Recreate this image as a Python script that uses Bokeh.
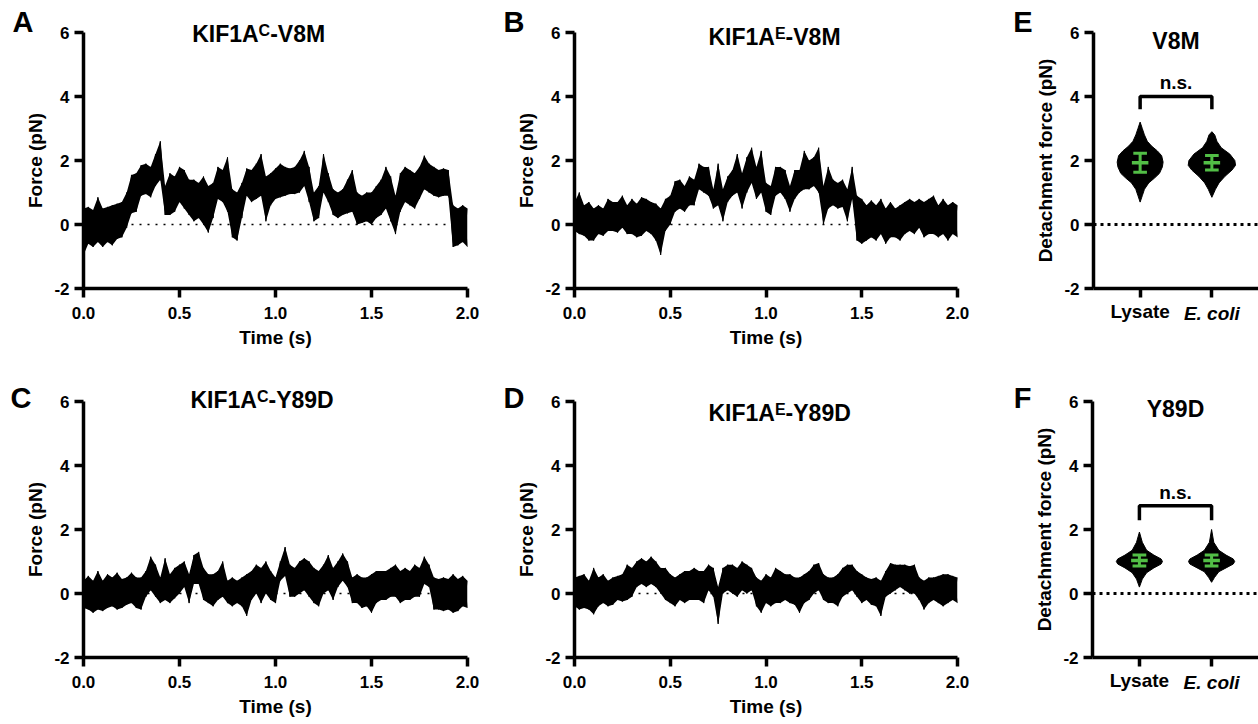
from bokeh.plotting import figure
from bokeh.layouts import row, column
from bokeh.models import Range1d, FixedTicker, Label, Span, LinearAxis
from bokeh.embed import file_html
from bokeh.resources import INLINE

FONT = "Liberation Sans"
GREEN = "#52BE46"

# ---------------- data ----------------
time_s = [0.0, 0.025, 0.05, 0.075, 0.1, 0.125, 0.15, 0.175, 0.2, 0.225,
          0.25, 0.275, 0.3, 0.325, 0.35, 0.375, 0.4, 0.425, 0.45, 0.475,
          0.5, 0.525, 0.55, 0.575, 0.6, 0.625, 0.65, 0.675, 0.7, 0.725,
          0.75, 0.775, 0.8, 0.825, 0.85, 0.875, 0.9, 0.925, 0.95, 0.975,
          1.0, 1.025, 1.05, 1.075, 1.1, 1.125, 1.15, 1.175, 1.2, 1.225,
          1.25, 1.275, 1.3, 1.325, 1.35, 1.375, 1.4, 1.425, 1.45, 1.475,
          1.5, 1.525, 1.55, 1.575, 1.6, 1.625, 1.65, 1.675, 1.7, 1.725,
          1.75, 1.775, 1.8, 1.825, 1.85, 1.875, 1.9, 1.925, 1.95, 1.975, 2.0]

# KIF1A^C-V8M  (upper / lower envelope of the force trace, pN)
hi_A = [0.5, 0.55, 0.45, 0.85, 0.5, 0.55, 0.6, 0.65, 0.7, 1.0,
        1.55, 1.6, 1.85, 1.9, 1.8, 2.2, 2.6, 1.2, 1.6, 1.5,
        1.8, 1.7, 1.4, 1.4, 1.3, 1.5, 1.2, 1.3, 1.8, 1.7,
        2.1, 1.1, 1.0, 1.3, 1.75, 1.7, 1.9, 2.2, 1.5, 1.6,
        1.75, 1.9, 1.8, 1.75, 1.8, 2.0, 2.3, 1.8, 1.0, 1.2,
        2.2, 1.6, 1.1, 1.0, 1.1, 1.4, 1.7, 1.0, 0.9, 1.0,
        1.0, 1.2, 1.4, 1.8, 1.5, 0.9, 1.6, 1.8, 1.7, 1.6,
        1.8, 2.15, 1.9, 1.8, 1.7, 1.75, 1.7, 0.6, 0.5, 0.6, 0.5]
lo_A = [-0.95, -0.6, -0.7, -0.55, -0.7, -0.55, -0.65, -0.45, -0.4, -0.1,
        0.35, 0.4, 0.9, 0.95, 0.85, 1.2, 1.4, 0.3, 0.3, 0.4,
        0.7, 0.5, 0.3, 0.1, 0.2, 0.0, -0.25, 0.2, 0.8, 0.7,
        0.4, -0.4, -0.5, 0.2, 0.9, 0.7, 0.8, 0.9, 0.1, 0.6,
        0.8, 0.85, 0.9, 0.95, 0.95, 1.0, 1.2, 0.7, 0.1, 0.2,
        1.0, 0.7, 0.3, 0.2, 0.3, 0.35, 0.4, 0.0, 0.05, 0.1,
        0.0, 0.2, 0.3, 0.5, 0.1, -0.3, 0.4, 0.7, 0.6, 0.5,
        0.8, 1.1, 1.0, 0.9, 0.85, 0.9, 0.9, -0.7, -0.65, -0.55, -0.7]

# KIF1A^E-V8M
hi_B = [0.7, 1.0, 0.6, 0.7, 0.5, 0.6, 0.5, 0.8, 0.7, 0.7,
        0.9, 0.6, 0.8, 0.65, 0.85, 0.8, 0.7, 0.65, 0.5, 0.8,
        0.9, 1.35, 1.4, 1.2, 1.5, 1.4, 1.9, 1.8, 1.8, 1.1,
        1.9, 1.1, 1.5, 1.7, 2.2, 1.6, 2.1, 2.4, 1.8, 2.3,
        1.3, 1.2, 1.8, 1.8, 1.7, 1.2, 1.7, 1.7, 2.3, 2.0,
        2.1, 2.4, 1.2, 1.8, 1.4, 1.3, 1.4, 1.1, 1.8, 0.9,
        0.8, 0.6, 0.75, 0.6, 0.8, 0.5, 0.7, 0.5, 0.6, 0.7,
        0.8, 0.7, 0.8, 0.7, 0.8, 0.9, 0.6, 0.8, 0.6, 0.7, 0.6]
lo_B = [-0.2, -0.3, -0.35, -0.5, -0.5, -0.3, -0.35, -0.2, -0.2, -0.25,
        -0.1, -0.3, -0.3, -0.4, -0.35, -0.2, -0.3, -0.5, -0.95, -0.2,
        0.0, 0.4, 0.5, 0.4, 0.6, 0.6, 1.1, 1.0, 0.9, 0.5,
        0.6, 0.1, 0.7, 0.9, 1.0, 0.5, 1.0, 1.3, 0.8, 1.0,
        0.4, 0.3, 0.9, 1.0, 0.8, 0.4, 0.8, 1.0, 1.1, 1.1,
        1.2, 1.0, 0.0, 0.5, 0.6, 0.5, 0.55, 0.1, 0.8, -0.5,
        -0.6, -0.5, -0.4, -0.5, -0.3, -0.6, -0.4, -0.4, -0.5, -0.3,
        -0.2, -0.3, -0.1, -0.4, -0.3, -0.3, -0.4, -0.3, -0.5, -0.3, -0.4]

# KIF1A^C-Y89D
hi_C = [0.4, 0.55, 0.4, 0.7, 0.4, 0.6, 0.5, 0.65, 0.45, 0.5,
        0.65, 0.5, 0.5, 0.7, 1.15, 0.9, 0.5, 1.1, 0.6, 0.8,
        0.9, 1.0, 0.6, 1.2, 1.3, 0.8, 0.6, 0.6, 0.7, 1.0,
        0.4, 0.5, 0.4, 0.5, 0.6, 0.7, 0.9, 0.8, 1.0, 0.7,
        0.5, 1.0, 1.45, 0.9, 0.8, 1.0, 1.1, 1.0, 0.8, 0.7,
        0.9, 1.2, 0.8, 1.0, 1.25, 1.0, 0.5, 0.6, 0.5, 0.5,
        0.6, 0.7, 0.7, 0.7, 0.8, 0.9, 0.7, 0.8, 0.7, 0.9,
        0.8, 1.15, 0.9, 0.5, 0.45, 0.5, 0.45, 0.6, 0.45, 0.55, 0.4]
lo_C = [-0.45, -0.5, -0.6, -0.5, -0.55, -0.45, -0.4, -0.5, -0.45, -0.35,
        -0.3, -0.45, -0.5, -0.1, 0.1, -0.1, -0.3, -0.2, -0.3, -0.15,
        0.0, 0.2, -0.3, 0.3, 0.3, -0.2, -0.3, -0.4, -0.2, -0.1,
        -0.3, -0.4, -0.3, -0.4, -0.7, -0.2, 0.0, -0.3, 0.0, -0.2,
        -0.3, 0.4, 0.55, -0.1, -0.1, 0.0, 0.1, -0.1, -0.3, -0.4,
        0.0, 0.1, -0.2, 0.2, 0.4, 0.2, -0.3, -0.3, -0.45, -0.4,
        -0.6, -0.3, -0.2, -0.2, -0.1, -0.1, -0.3, -0.2, -0.2, -0.1,
        -0.1, 0.3, 0.2, -0.5, -0.5, -0.55, -0.5, -0.6, -0.55, -0.4, -0.45]

# KIF1A^E-Y89D
hi_D = [0.5, 0.55, 0.6, 0.4, 0.8, 0.5, 0.6, 0.4, 0.5, 0.55,
        0.6, 0.9, 0.8, 1.0, 1.1, 1.0, 1.15, 1.0, 0.8, 0.8,
        0.6, 0.5, 0.6, 0.7, 0.7, 0.8, 0.7, 0.7, 0.9, 0.8,
        0.2, 0.8, 0.9, 0.9, 0.8, 1.0, 0.9, 0.8, 0.5, 0.4,
        0.6, 0.5, 0.8, 0.7, 0.6, 0.6, 0.5, 0.5, 0.6, 0.7,
        0.9, 0.95, 0.6, 0.5, 0.5, 0.6, 0.8, 0.9, 0.9, 0.7,
        0.6, 0.5, 0.45, 0.5, 0.4, 0.7, 0.95, 0.9, 0.9, 0.9,
        0.85, 0.9, 0.5, 0.4, 0.5, 0.5, 0.55, 0.6, 0.6, 0.55, 0.5]
lo_D = [-0.4, -0.5, -0.45, -0.5, -0.65, -0.4, -0.3, -0.4, -0.35, -0.2,
        -0.25, -0.2, -0.1, 0.2, 0.3, 0.2, 0.3, 0.2, 0.0, -0.2,
        -0.3, -0.4, -0.2, -0.3, -0.2, -0.2, -0.2, -0.3, 0.1, -0.1,
        -0.95, 0.0, 0.1, 0.0, -0.1, 0.1, 0.0, 0.1, -0.4, -0.6,
        -0.3, -0.4, -0.3, -0.3, -0.2, -0.3, -0.35, -0.6, -0.3, -0.2,
        0.0, 0.1, -0.2, -0.3, -0.3, -0.4, -0.1, 0.0, 0.1, -0.1,
        -0.3, -0.2, -0.35, -0.4, -0.7, -0.1, 0.0, 0.1, 0.2, 0.1,
        0.0, 0.0, -0.2, -0.5, -0.3, -0.2, -0.3, -0.4, -0.3, -0.2, -0.3]

time_ticks = [0, 0.5, 1, 1.5, 2]
time_tick_labels = ["0.0", "0.5", "1.0", "1.5", "2.0"]
force_ticks = [-2, 0, 2, 4, 6]
force_tick_labels = ["-2", "0", "2", "4", "6"]

groups = ["Lysate", "E. coli"]

# violin outlines (force level, half-width in category units)
v8m_lys_y = [0.7, 0.9, 1.1, 1.3, 1.45, 1.6, 1.8, 1.95, 2.15, 2.3, 2.45, 2.6, 2.8, 3.0, 3.2]
v8m_lys_w = [0.0, 0.03, 0.06, 0.12, 0.2, 0.27, 0.31, 0.32, 0.3, 0.24, 0.16, 0.1, 0.06, 0.03, 0.0]
v8m_eco_y = [0.85, 1.1, 1.3, 1.5, 1.7, 1.85, 2.0, 2.2, 2.4, 2.6, 2.8, 2.9]
v8m_eco_w = [0.0, 0.05, 0.1, 0.18, 0.28, 0.33, 0.32, 0.25, 0.13, 0.07, 0.04, 0.0]
y89d_lys_y = [0.2, 0.45, 0.65, 0.8, 0.92, 1.0, 1.08, 1.2, 1.35, 1.6, 1.92]
y89d_lys_w = [0.0, 0.04, 0.1, 0.2, 0.3, 0.32, 0.3, 0.2, 0.1, 0.04, 0.0]
y89d_eco_y = [0.35, 0.5, 0.68, 0.8, 0.92, 1.0, 1.08, 1.2, 1.35, 1.6, 2.0]
y89d_eco_w = [0.0, 0.04, 0.1, 0.2, 0.3, 0.32, 0.3, 0.2, 0.1, 0.03, 0.0]

v8m_mean = [1.93, 1.93]
v8m_sd = [0.30, 0.23]
y89d_mean = [1.03, 1.03]
y89d_sd = [0.17, 0.17]

v8m_bracket = (4.0, 3.6)
y89d_bracket = (2.74, 2.29)


# ---------------- helpers ----------------
def style_axis(ax):
    ax.axis_line_width = 3.5
    ax.axis_line_color = "black"
    ax.major_tick_line_width = 3.5
    ax.major_tick_line_color = "black"
    ax.major_tick_out = 9
    ax.major_tick_in = 0
    ax.minor_tick_line_color = None
    ax.major_label_text_font = FONT
    ax.major_label_text_font_style = "bold"
    ax.major_label_text_font_size = "17px"
    ax.major_label_text_color = "black"
    ax.axis_label_text_font = FONT
    ax.axis_label_text_font_style = "bold"
    ax.axis_label_text_font_size = "19px"
    ax.axis_label_text_color = "black"


def text_axis(p, side, ticks, labels, size, standoff, style="bold", orientation="horizontal"):
    ax = LinearAxis(ticker=FixedTicker(ticks=ticks),
                    major_label_overrides=dict(zip(ticks, labels)),
                    axis_line_color=None, major_tick_line_color=None,
                    minor_tick_line_color=None, major_tick_out=0, major_tick_in=0,
                    major_label_standoff=standoff, major_label_text_font=FONT,
                    major_label_text_font_size=size, major_label_text_font_style=style,
                    major_label_text_color="black", major_label_orientation=orientation)
    p.add_layout(ax, side)
    return ax


def base_figure(width, height, left, right, bottom, y_top, x_range, ylabel,
                letter, letter_y, letter_standoff):
    p = figure(width=width, height=height, output_backend="svg", toolbar_location=None,
               x_range=x_range, y_range=Range1d(-2, y_top),
               min_border_left=left, min_border_right=right,
               min_border_top=0, min_border_bottom=bottom)
    style_axis(p.xaxis[0])
    style_axis(p.yaxis[0])
    p.yaxis[0].bounds = (-2, 6)
    p.yaxis[0].ticker = FixedTicker(ticks=force_ticks)
    p.yaxis[0].major_label_overrides = dict(zip(force_ticks, force_tick_labels))
    p.yaxis[0].major_label_standoff = 5
    p.xgrid.visible = False
    p.ygrid.visible = False
    p.outline_line_color = None
    p.background_fill_color = "white"
    p.border_fill_color = "white"
    # rotated y-axis title, centred on the drawn part of the axis
    text_axis(p, "left", [2], [ylabel], "19px", 6, orientation="vertical")
    # panel letter
    text_axis(p, "left", [letter_y], [letter], "29px", letter_standoff)
    return p


def add_label(p, text, x, y, xo=0, yo=0, size="23px", align="left", style="bold"):
    p.add_layout(Label(x=x, y=y, x_offset=xo, y_offset=yo, text=text,
                       text_font=FONT, text_font_size=size, text_font_style=style,
                       text_align=align, text_baseline="middle", text_color="black"))


def trace_panel(hi, lo, width, left, right, height, bottom, y_top, letter, letter_y, letter_so,
                base, sup, rest, title_xo, title_yo):
    p = base_figure(width, height, left, right, bottom, y_top, Range1d(0, 2),
                    "Force (pN)", letter, letter_y, letter_so)
    p.xaxis[0].axis_label = "Time (s)"
    p.xaxis[0].ticker = FixedTicker(ticks=time_ticks)
    p.xaxis[0].major_label_overrides = dict(zip(time_ticks, time_tick_labels))
    p.xaxis[0].major_label_standoff = 9
    p.xaxis[0].axis_label_standoff = 5
    p.add_layout(Span(location=0, dimension="width", line_color="black",
                      line_width=1.5, line_dash="2 6"))
    p.varea(x=time_s, y1=lo, y2=hi, fill_color="black", fill_alpha=1.0)
    zig1 = [hi[i] if i % 2 == 0 else lo[i] for i in range(len(time_s))]
    zig2 = [lo[i] if i % 2 == 0 else hi[i] for i in range(len(time_s))]
    p.line(time_s, zig1, line_color="black", line_width=1)
    p.line(time_s, zig2, line_color="black", line_width=1)
    # title with superscript
    add_label(p, base, 0, 6, xo=title_xo, yo=title_yo, size="23px")
    add_label(p, sup, 0, 6, xo=title_xo + 66.4, yo=title_yo + 3.5, size="16px")
    sup_w = 11.6 if sup == "C" else 10.7
    add_label(p, rest, 0, 6, xo=title_xo + 66.4 + sup_w, yo=title_yo, size="23px")
    return p


def violin_panel(vdata, means, sds, bracket, ns_y, title, title_yo, letter, letter_y, letter_so,
                 width, left, right, height, bottom, y_top):
    p = base_figure(width, height, left, right, bottom, y_top, Range1d(-0.65, 1.65),
                    "Detachment force (pN)", letter, letter_y, letter_so)
    p.xaxis[0].ticker = FixedTicker(ticks=[0, 1])
    p.xaxis[0].major_label_overrides = {0: groups[0], 1: " "}
    p.xaxis[0].major_label_text_font_size = "19px"
    p.xaxis[0].major_label_standoff = 3
    text_axis(p, "below", [1], [groups[1]], "19px", -22, style="bold italic")
    p.add_layout(Span(location=0, dimension="width", line_color="black",
                      line_width=3, line_dash="3 4"))
    for k, (vy, vw) in enumerate(vdata):
        xs = [k + w for w in vw] + [k - w for w in reversed(vw)]
        ys = list(vy) + list(reversed(vy))
        p.patch(xs, ys, fill_color="black", line_color="black", line_width=1)
    for k in range(2):
        m, s = means[k], sds[k]
        p.segment(x0=[k - 0.115], y0=[m], x1=[k + 0.115], y1=[m], line_color=GREEN, line_width=3.5)
        p.segment(x0=[k], y0=[m - s], x1=[k], y1=[m + s], line_color=GREEN, line_width=3)
        p.segment(x0=[k - 0.095, k - 0.095], y0=[m - s, m + s],
                  x1=[k + 0.095, k + 0.095], y1=[m - s, m + s], line_color=GREEN, line_width=3)
    top_y, leg_y = bracket
    p.line([0, 0, 1, 1], [leg_y, top_y, top_y, leg_y], line_color="black", line_width=3.5)
    add_label(p, "n.s.", 0.5, ns_y, align="center", size="19px")
    add_label(p, title, 0.5, 6, yo=title_yo, align="center", size="23px")
    return p


TOP_H, BOT_H = 377, 347
TOP_YMAX, BOT_YMAX = 7.0, 6.75

pA = trace_panel(hi_A, lo_A, 499, 83, 32, TOP_H, 89, TOP_YMAX, "A", 6.33, -12,
                 "KIF1A", "C", "-V8M", 108.7, -1.2)
pB = trace_panel(hi_B, lo_B, 511, 75, 53, TOP_H, 89, TOP_YMAX, "B", 6.33, -12,
                 "KIF1A", "E", "-V8M", 134, -4.7)
pE = violin_panel([(v8m_lys_y, v8m_lys_w), (v8m_eco_y, v8m_eco_w)], v8m_mean, v8m_sd,
                  v8m_bracket, 4.45, "V8M", -8.5, "E", 6.33, -1, 248, 77, 0, TOP_H, 89, TOP_YMAX)
pC = trace_panel(hi_C, lo_C, 499, 83, 32, BOT_H, 67, BOT_YMAX, "C", 6.4, -10,
                 "KIF1A", "C", "-Y89D", 107, 1.8)
pD = trace_panel(hi_D, lo_D, 511, 75, 53, BOT_H, 67, BOT_YMAX, "D", 6.4, -12,
                 "KIF1A", "E", "-Y89D", 134, -11.5)
pF = violin_panel([(y89d_lys_y, y89d_lys_w), (y89d_eco_y, y89d_eco_w)], y89d_mean, y89d_sd,
                  y89d_bracket, 3.17, "Y89D", -7.4, "F", 6.4, -1, 248, 77, 0, BOT_H, 67, BOT_YMAX)

layout = column(row(pA, pB, pE, spacing=0), row(pC, pD, pF, spacing=0), spacing=0)

open("out.html", "w").write(file_html(layout, INLINE))
